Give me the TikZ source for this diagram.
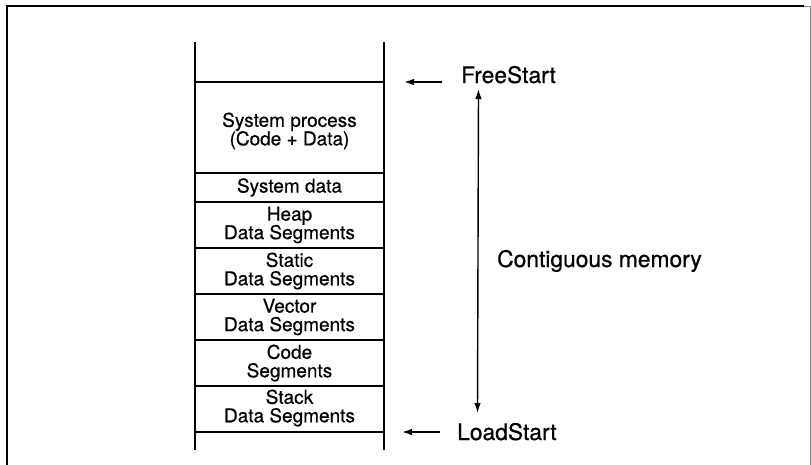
\documentclass[tikz,border=0pt]{standalone}
\usepackage{fontspec}
\setmainfont{TeX Gyre Heros}[FakeBold=0.6]
\usetikzlibrary{arrows.meta}
\begin{document}
\begin{tikzpicture}[x=1pt,y=-1pt,
    wall/.style={line width=1.6pt},
    frameline/.style={line width=1.8pt},
    seg/.style={align=center,inner sep=0pt,font=\fontsize{19}{18.5}\selectfont},
    lbl/.style={inner sep=0pt,anchor=base west,font=\fontsize{22.8}{24}\selectfont},
    tip/.tip={Latex[length=10pt,width=6.5pt]},
    arr/.style={line width=1.4pt,-tip},
    darr/.style={line width=1.4pt,tip-tip}]
  \useasboundingbox (0,0) rectangle (811,464);
  % outer frame (its lower edge lies below the page)
  \draw[frameline] (7,470) -- (7,6) -- (804,6);
  \draw[line width=1pt,black!45] (804,6) -- (810,6) -- (810,470);
  % memory column
  \draw[wall] (195,42) -- (195,450);
  \draw[wall] (384,42) -- (384,450);
  \foreach \y in {82,173,202,248,294,340,386,432}
    \draw[wall] (195,\y) -- (384,\y);
  % segment labels
  \node[seg] (sysproc) at (289.5,131) {System process\\(Code + Data)};
  \node[seg] (sysdata) at (289.5,187.5) {System data};
  \node[seg] (heap)    at (289.5,225) {Heap\\Data Segments};
  \node[seg] (static)  at (289.5,271) {Static\\Data Segments};
  \node[seg] (vector)  at (289.5,317) {Vector\\Data Segments};
  \node[seg] (code)    at (289.5,363) {Code\\Segments};
  \node[seg] (stack)   at (289.5,408) {Stack\\Data Segments};
  % pointers
  \node[lbl] (free) at (461,83) {FreeStart};
  \node[lbl] (load) at (457,440) {LoadStart};
  \node[lbl] (contig) at (497,267) {Contiguous memory};
  \coordinate (freeA) at (442,82);
  \coordinate (freeB) at (404,82);
  \coordinate (loadA) at (440,432);
  \coordinate (loadB) at (402,432);
  \draw[arr] (freeA) -- (freeB);
  \draw[arr] (loadA) -- (loadB);
  \coordinate (spanTop) at (478.5,89);
  \coordinate (spanBot) at (477.5,413);
  \draw[darr] (spanTop) -- (spanBot);
\end{tikzpicture}
\end{document}
